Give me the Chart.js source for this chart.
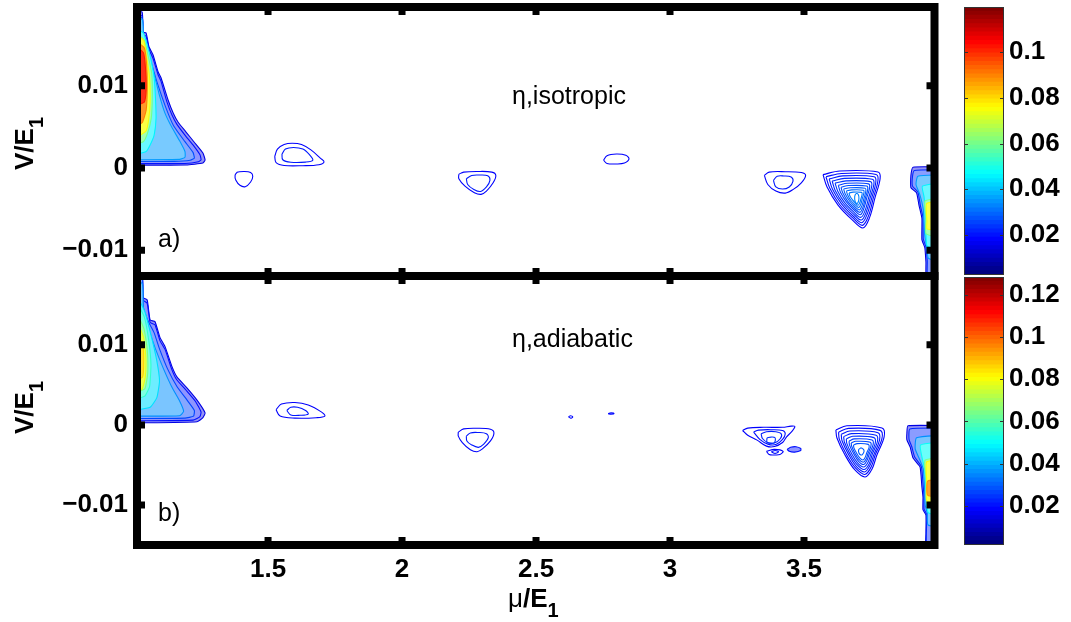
<!DOCTYPE html>
<html lang="en">
<head>
<meta charset="UTF-8">
<title>η contours: isotropic vs adiabatic</title>
<script src="https://cdn.jsdelivr.net/npm/chart.js"></script>
<style>
  body { margin: 0; background: #fff; }
  #wrap { position: relative; width: 1071px; height: 622px; overflow: hidden; }
  canvas { position: absolute; }
  .t { position: absolute; line-height: 1; white-space: nowrap; color: #000;
       font-family: "Liberation Sans", Arial, sans-serif; }
  .axt { font-weight: bold; font-size: 26px; }
  .axt .s { font-size: 20px; position: relative; top: 10px; }
  .axt .mu { font-weight: normal; }
  .yt { transform-origin: 0 0; transform: rotate(-90deg); }
  .note { font-size: 25px; }
</style>
</head>
<body>
<div id="wrap">
  <canvas id="topPlot" width="945" height="290" style="left:0;top:0"></canvas>
  <canvas id="botPlot" width="945" height="352" style="left:0;top:270px"></canvas>
  <canvas id="topBar" width="131" height="290" style="left:940px;top:0"></canvas>
  <canvas id="botBar" width="131" height="290" style="left:940px;top:270px"></canvas>

  <div class="t axt yt" style="left:11px;top:170px">V/E<span class="s">1</span></div>
  <div class="t axt yt" style="left:11px;top:434px">V/E<span class="s">1</span></div>
  <div class="t axt" style="left:508px;top:585px"><span class="mu">μ</span>/E<span class="s">1</span></div>

  <div class="t note" style="left:512px;top:83px">η,isotropic</div>
  <div class="t note" style="left:512px;top:326px">η,adiabatic</div>
  <div class="t note" style="left:158px;top:226px">a)</div>
  <div class="t note" style="left:158px;top:500px">b)</div>
</div>

<script>
// axes
const muRange = [1.011, 3.987];
const vRangeTop = [-0.01312, 0.01956];
const vRangeBot = [-0.0150, 0.0186];
const xTicks = [1.5, 2, 2.5, 3, 3.5];
const xTickText = ['1.5', '2', '2.5', '3', '3.5'];
const yTicks = [-0.01, 0, 0.01];
const yTickText = ['\u22120.01', '0', '0.01'];

// colour scales of the two panels
const cRangeTop = [0.0024, 0.1198];
const cRangeBot = [0.0013, 0.1286];
const cTicksTop = [0.02, 0.04, 0.06, 0.08, 0.1];
const cTicksBot = [0.02, 0.04, 0.06, 0.08, 0.1, 0.12];

// contour rings: [level, [[mu, V*1e3], ...]]

// a) isotropic
const isoLeft = [
  [0.014, [[1.00,18.96],[1.030,18.96],[1.034,16.5],[1.045,16.4],[1.056,14.7],[1.071,13.73],[1.090,11.66],[1.101,10.94],[1.127,8.26],[1.146,6.68],[1.164,5.59],[1.194,4.37],[1.224,3.16],[1.257,1.82],[1.265,0.97],[1.257,0.61],[1.194,0.36],[1.00,0.36]]],
  [0.019, [[1.00,18.7],[1.030,18.5],[1.034,16.2],[1.045,16.0],[1.056,14.4],[1.071,13.3],[1.090,11.3],[1.101,10.5],[1.123,8.0],[1.142,6.4],[1.160,5.3],[1.190,4.0],[1.220,2.8],[1.246,1.6],[1.250,1.0],[1.240,0.75],[1.19,0.55],[1.00,0.55]]],
  [0.026, [[1.00,18.6],[1.031,18.2],[1.034,15.8],[1.048,14.6],[1.066,12.6],[1.086,10.4],[1.118,7.4],[1.148,5.1],[1.19,3.2],[1.22,1.9],[1.225,1.2],[1.21,0.95],[1.15,0.8],[1.00,0.8]]],
  [0.035, [[1.00,18.5],[1.031,18.0],[1.036,15.8],[1.048,14.6],[1.06,13.0],[1.078,11.0],[1.095,8.8],[1.115,6.7],[1.14,5.0],[1.17,3.3],[1.19,2.0],[1.19,1.3],[1.17,1.05],[1.00,1.0]]],
  [0.045, [[1.00,17.0],[1.035,16.4],[1.049,15.0],[1.063,13.2],[1.075,11.0],[1.08,8.5],[1.082,6.0],[1.075,4.0],[1.06,2.8],[1.045,2.0],[1.00,1.6]]],
  [0.06, [[1.00,16.6],[1.037,15.6],[1.05,14.0],[1.066,11.5],[1.068,8.5],[1.064,6.0],[1.05,4.2],[1.035,3.2],[1.00,2.8]]],
  [0.075, [[1.00,16.5],[1.036,15.5],[1.047,13.5],[1.058,11.0],[1.06,8.0],[1.055,6.0],[1.045,4.5],[1.00,3.5]]],
  [0.09, [[1.00,15.6],[1.038,14.6],[1.047,12.5],[1.049,9.5],[1.045,7.0],[1.03,5.5],[1.00,5.0]]],
  [0.102, [[1.00,15.0],[1.035,14.0],[1.043,12.0],[1.045,9.5],[1.038,8.0],[1.00,7.5]]]
];
const isoRight = [
  [0.014, [[4.05,0.1],[3.907,0.1],[3.899,-0.9],[3.899,-2.4],[3.92,-3.0],[3.929,-4.5],[3.94,-6.1],[3.94,-8.7],[3.951,-9.7],[3.955,-11.4],[3.959,-14],[4.05,-14]]],
  [0.022, [[4.05,-0.2],[3.912,-0.3],[3.905,-1.0],[3.905,-2.2],[3.925,-2.9],[3.934,-4.5],[3.944,-6.0],[3.945,-8.6],[3.955,-9.6],[3.96,-11.3],[3.963,-14],[4.05,-14]]],
  [0.035, [[4.05,-0.8],[3.925,-1.0],[3.918,-2.0],[3.932,-3.2],[3.945,-5.0],[3.95,-8.0],[3.958,-9.6],[3.965,-11],[4.05,-11.5]]],
  [0.045, [[4.05,-1.6],[3.942,-2.2],[3.948,-3.5],[3.952,-5.5],[3.955,-8.0],[3.96,-9.5],[4.05,-10.5]]],
  [0.06, [[4.05,-3.5],[3.952,-4.0],[3.955,-6.0],[3.956,-8.0],[4.05,-8.8]]],
  [0.075, [[4.05,-3.9],[3.958,-4.3],[3.959,-6.5],[3.959,-7.4],[4.05,-7.7]]]
];
const isoRing141 = [
  [0.017, [[1.385,-0.5],[1.41,-0.42],[1.435,-0.55],[1.443,-1.0],[1.435,-1.7],[1.415,-2.27],[1.395,-2.1],[1.38,-1.5],[1.377,-0.9],[1.385,-0.5]]]
];
const isoPair160 = [
  [0.017, [[1.525,1.4],[1.535,2.3],[1.56,2.85],[1.59,3.0],[1.625,2.85],[1.66,2.2],[1.695,1.2],[1.709,0.75],[1.69,0.4],[1.63,0.28],[1.56,0.3],[1.53,0.65],[1.525,1.4]]],
  [0.02, [[1.552,1.7],[1.565,2.3],[1.595,2.5],[1.63,2.3],[1.655,1.6],[1.667,0.95],[1.64,0.72],[1.585,0.7],[1.555,1.0],[1.552,1.7]]]
];
const isoPair228 = [
  [0.017, [[2.212,-0.75],[2.23,-0.5],[2.28,-0.42],[2.335,-0.5],[2.35,-0.9],[2.34,-1.8],[2.315,-2.8],[2.295,-3.2],[2.27,-3.0],[2.235,-2.2],[2.212,-1.3],[2.212,-0.75]]],
  [0.02, [[2.24,-1.3],[2.26,-0.9],[2.29,-0.85],[2.32,-0.95],[2.328,-1.5],[2.315,-2.3],[2.293,-2.85],[2.268,-2.6],[2.245,-2.0],[2.24,-1.3]]]
];
const isoRing280 = [
  [0.017, [[2.752,0.95],[2.765,1.5],[2.8,1.7],[2.835,1.55],[2.847,1.1],[2.83,0.6],[2.8,0.49],[2.765,0.55],[2.752,0.95]]]
];
const isoPair343 = [
  [0.017, [[3.352,-0.9],[3.37,-0.5],[3.43,-0.45],[3.49,-0.55],[3.506,-0.9],[3.49,-1.8],[3.46,-2.6],[3.43,-3.05],[3.395,-2.8],[3.365,-2.0],[3.352,-0.9]]],
  [0.02, [[3.386,-1.5],[3.4,-1.0],[3.425,-0.97],[3.452,-1.1],[3.459,-1.6],[3.445,-2.3],[3.42,-2.55],[3.395,-2.3],[3.386,-1.5]]]
];
const isoNest372 = [
  [0.0170, [[3.571,-0.8],[3.634,-0.36],[3.776,-0.49],[3.784,-1.3],[3.765,-3.6],[3.745,-6.0],[3.72,-7.29],[3.68,-6.3],[3.627,-4.5],[3.586,-2.31],[3.571,-0.8]]],
  [0.0185, [[3.582,-1.06],[3.640,-0.66],[3.769,-0.78],[3.776,-1.52],[3.759,-3.61],[3.741,-5.79],[3.718,-6.97],[3.682,-6.07],[3.633,-4.43],[3.596,-2.44],[3.582,-1.06]]],
  [0.0200, [[3.594,-1.32],[3.645,-0.96],[3.762,-1.07],[3.768,-1.73],[3.753,-3.62],[3.736,-5.59],[3.716,-6.64],[3.683,-5.83],[3.640,-4.36],[3.606,-2.56],[3.594,-1.32]]],
  [0.0215, [[3.605,-1.58],[3.651,-1.26],[3.755,-1.36],[3.761,-1.95],[3.747,-3.63],[3.732,-5.38],[3.714,-6.32],[3.685,-5.6],[3.646,-4.28],[3.616,-2.69],[3.605,-1.58]]],
  [0.0230, [[3.616,-1.84],[3.657,-1.56],[3.748,-1.65],[3.753,-2.16],[3.741,-3.64],[3.728,-5.17],[3.712,-6.0],[3.686,-5.36],[3.652,-4.21],[3.626,-2.81],[3.616,-1.84]]],
  [0.0245, [[3.628,-2.1],[3.662,-1.86],[3.741,-1.93],[3.745,-2.38],[3.734,-3.65],[3.723,-4.97],[3.710,-5.68],[3.688,-5.13],[3.659,-4.14],[3.636,-2.94],[3.628,-2.1]]],
  [0.0260, [[3.638,-2.34],[3.667,-2.13],[3.734,-2.19],[3.738,-2.57],[3.729,-3.65],[3.720,-4.78],[3.708,-5.39],[3.689,-4.92],[3.664,-4.08],[3.645,-3.05],[3.638,-2.34]]],
  [0.0275, [[3.648,-2.57],[3.672,-2.4],[3.728,-2.45],[3.731,-2.76],[3.724,-3.66],[3.716,-4.6],[3.706,-5.1],[3.690,-4.71],[3.670,-4.01],[3.654,-3.16],[3.648,-2.57]]],
  [0.0290, [[3.658,-2.8],[3.678,-2.66],[3.722,-2.7],[3.724,-2.96],[3.718,-3.67],[3.712,-4.41],[3.704,-4.81],[3.692,-4.51],[3.675,-3.95],[3.663,-3.27],[3.658,-2.8]]],
  [0.0305, [[3.668,-3.03],[3.683,-2.93],[3.715,-2.96],[3.717,-3.15],[3.713,-3.68],[3.708,-4.23],[3.702,-4.53],[3.693,-4.3],[3.681,-3.88],[3.671,-3.38],[3.668,-3.03]]],
  [0.0320, [[3.697,-3.05],[3.703,-3.25],[3.705,-3.7],[3.702,-4.15],[3.697,-4.3],[3.692,-4.15],[3.689,-3.7],[3.691,-3.25],[3.697,-3.05]]]
];

// b) adiabatic
const adiLeft = [
  [0.014, [[1.00,19.0],[1.030,19.0],[1.034,15.9],[1.049,15.6],[1.060,13.1],[1.078,12.9],[1.097,10.9],[1.116,9.75],[1.142,7.25],[1.160,6.0],[1.198,4.6],[1.235,3.1],[1.265,1.5],[1.257,0.9],[1.235,0.4],[1.00,0.25]]],
  [0.019, [[1.00,18.8],[1.030,18.6],[1.034,15.6],[1.049,15.2],[1.060,12.8],[1.078,12.5],[1.097,10.5],[1.116,9.4],[1.140,7.0],[1.158,5.7],[1.195,4.3],[1.23,2.9],[1.25,1.6],[1.245,1.0],[1.22,0.6],[1.00,0.5]]],
  [0.026, [[1.00,18.6],[1.031,18.2],[1.034,14.8],[1.052,13.0],[1.075,11.5],[1.095,9.5],[1.125,7.0],[1.16,4.8],[1.2,3.0],[1.225,1.8],[1.222,1.1],[1.19,0.85],[1.00,0.8]]],
  [0.035, [[1.00,18.4],[1.031,17.6],[1.035,14.5],[1.055,12.0],[1.08,9.5],[1.11,7.0],[1.14,4.8],[1.17,3.0],[1.185,1.7],[1.17,1.15],[1.00,1.1]]],
  [0.045, [[1.00,16.8],[1.04,14.2],[1.065,11.0],[1.085,8.0],[1.095,5.5],[1.085,3.4],[1.06,2.2],[1.00,1.8]]],
  [0.055, [[1.00,16.0],[1.038,13.5],[1.055,10.5],[1.063,7.5],[1.058,4.8],[1.04,3.6],[1.00,3.2]]],
  [0.065, [[1.00,14.8],[1.037,12.0],[1.049,9.5],[1.051,6.5],[1.04,4.5],[1.00,4.0]]],
  [0.078, [[1.00,13.8],[1.035,11.0],[1.044,8.5],[1.042,6.0],[1.03,4.5],[1.00,4.2]]],
  [0.086, [[1.00,11.5],[1.032,10.2],[1.036,8.0],[1.032,6.0],[1.00,5.3]]]
];
const adiRight = [
  [0.014, [[4.05,-0.1],[3.888,-0.1],[3.884,-1.0],[3.884,-1.88],[3.896,-2.75],[3.907,-4.13],[3.933,-5.25],[3.94,-7.75],[3.944,-9.0],[3.944,-10.6],[3.955,-11.25],[3.955,-13.5],[3.957,-16],[4.05,-16]]],
  [0.022, [[4.05,-0.4],[3.895,-0.5],[3.892,-1.8],[3.902,-2.7],[3.913,-4.0],[3.938,-5.2],[3.945,-7.7],[3.948,-9.0],[3.948,-10.5],[3.958,-11.2],[3.96,-16],[4.05,-16]]],
  [0.035, [[4.05,-1.2],[3.92,-1.6],[3.915,-3.0],[3.93,-4.2],[3.945,-5.5],[3.95,-8.0],[3.952,-10.0],[3.96,-11.0],[3.963,-12.5],[4.05,-13]]],
  [0.05, [[4.05,-2.0],[3.935,-2.5],[3.94,-4.0],[3.95,-5.5],[3.955,-8.0],[3.958,-10.0],[3.965,-11.0],[4.05,-11.5]]],
  [0.065, [[4.05,-4.0],[3.952,-4.4],[3.955,-6.5],[3.957,-8.5],[3.959,-9.8],[4.05,-10.2]]],
  [0.08, [[4.05,-4.3],[3.958,-4.6],[3.958,-7.0],[3.959,-9.5],[4.05,-10.0]]],
  [0.095, [[4.05,-6.8],[3.962,-7.0],[3.962,-8.8],[4.05,-9.2]]]
];
const adiPair160 = [
  [0.017, [[1.53,1.9],[1.55,2.6],[1.6,2.8],[1.65,2.5],[1.7,1.6],[1.712,1.1],[1.68,0.9],[1.6,0.85],[1.545,1.1],[1.53,1.9]]],
  [0.02, [[1.57,1.8],[1.585,2.2],[1.61,2.2],[1.64,1.8],[1.65,1.35],[1.62,1.2],[1.585,1.25],[1.57,1.8]]]
];
const adiPair228 = [
  [0.017, [[2.21,-0.9],[2.23,-0.5],[2.28,-0.42],[2.33,-0.55],[2.343,-1.0],[2.33,-2.0],[2.3,-3.0],[2.28,-3.35],[2.255,-3.1],[2.225,-2.2],[2.21,-1.4],[2.21,-0.9]]],
  [0.02, [[2.24,-1.4],[2.255,-1.0],[2.285,-0.95],[2.315,-1.1],[2.322,-1.6],[2.305,-2.4],[2.285,-2.8],[2.26,-2.5],[2.242,-2.0],[2.24,-1.4]]]
];
const adiSpecks = [
  [0.018, [[2.621,1.0],[2.629,1.15],[2.637,1.0],[2.629,0.85],[2.621,1.0]]],
  [0.018, [[2.769,1.41],[2.78,1.5],[2.791,1.41],[2.78,1.33],[2.769,1.41]]]
];
const adiCluster343 = [
  [0.017, [[3.271,-0.7],[3.29,-0.4],[3.35,-0.3],[3.42,-0.3],[3.452,-0.15],[3.466,-0.2],[3.455,-0.8],[3.435,-1.5],[3.42,-2.2],[3.39,-2.7],[3.36,-2.65],[3.325,-1.9],[3.29,-1.3],[3.271,-0.7]]],
  [0.019, [[3.312,-0.9],[3.33,-0.65],[3.38,-0.6],[3.42,-0.7],[3.43,-1.1],[3.42,-1.8],[3.395,-2.45],[3.365,-2.4],[3.335,-1.8],[3.312,-0.9]]],
  [0.021, [[3.34,-1.1],[3.36,-0.85],[3.395,-0.85],[3.415,-1.1],[3.412,-1.7],[3.39,-2.25],[3.365,-2.2],[3.345,-1.7],[3.34,-1.1]]],
  [0.023, [[3.362,-1.6],[3.377,-1.52],[3.392,-1.6],[3.39,-2.2],[3.376,-2.3],[3.362,-2.2],[3.362,-1.6]]],
  [0.017, [[3.36,-3.3],[3.39,-3.05],[3.422,-3.3],[3.41,-3.7],[3.39,-3.75],[3.37,-3.7],[3.36,-3.3]]],
  [0.019, [[3.378,-3.35],[3.392,-3.2],[3.405,-3.35],[3.392,-3.55],[3.378,-3.35]]]
];
const adiBlot345 = [
  [0.019, [[3.437,-3.05],[3.45,-2.8],[3.47,-2.72],[3.488,-2.95],[3.488,-3.2],[3.465,-3.4],[3.445,-3.3],[3.437,-3.05]]]
];
const adiNest372 = [
  [0.0170, [[3.619,-0.63],[3.66,-0.1],[3.791,-0.38],[3.799,-1.5],[3.772,-3.75],[3.754,-5.5],[3.728,-6.5],[3.690,-5.63],[3.653,-3.75],[3.623,-1.63],[3.619,-0.63]]],
  [0.0185, [[3.629,-0.91],[3.666,-0.43],[3.784,-0.68],[3.791,-1.69],[3.766,-3.72],[3.750,-5.29],[3.727,-6.19],[3.693,-5.41],[3.659,-3.72],[3.632,-1.81],[3.629,-0.91]]],
  [0.0200, [[3.639,-1.18],[3.671,-0.76],[3.776,-0.98],[3.782,-1.88],[3.761,-3.68],[3.746,-5.08],[3.726,-5.88],[3.695,-5.18],[3.666,-3.68],[3.642,-1.98],[3.639,-1.18]]],
  [0.0215, [[3.648,-1.46],[3.677,-1.09],[3.769,-1.29],[3.774,-2.07],[3.755,-3.65],[3.743,-4.87],[3.724,-5.57],[3.698,-4.96],[3.672,-3.65],[3.651,-2.16],[3.648,-1.46]]],
  [0.0230, [[3.658,-1.74],[3.682,-1.42],[3.761,-1.59],[3.766,-2.26],[3.750,-3.61],[3.739,-4.66],[3.723,-5.26],[3.700,-4.74],[3.678,-3.61],[3.660,-2.34],[3.658,-1.74]]],
  [0.0245, [[3.668,-2.02],[3.688,-1.75],[3.754,-1.89],[3.758,-2.45],[3.744,-3.58],[3.735,-4.45],[3.722,-4.95],[3.703,-4.52],[3.685,-3.58],[3.670,-2.52],[3.668,-2.02]]],
  [0.0260, [[3.676,-2.26],[3.693,-2.05],[3.747,-2.16],[3.750,-2.62],[3.739,-3.54],[3.732,-4.26],[3.721,-4.67],[3.705,-4.31],[3.690,-3.54],[3.678,-2.67],[3.676,-2.26]]],
  [0.0275, [[3.685,-2.51],[3.698,-2.34],[3.740,-2.43],[3.743,-2.79],[3.734,-3.51],[3.728,-4.07],[3.720,-4.39],[3.708,-4.11],[3.696,-3.51],[3.686,-2.83],[3.685,-2.51]]],
  [0.0290, [[3.713,-2.85],[3.722,-3.05],[3.724,-3.35],[3.718,-3.7],[3.712,-3.75],[3.705,-3.5],[3.704,-3.1],[3.713,-2.85]]]
];

Chart.defaults.font.family = "'Liberation Sans', Arial, sans-serif";
const tickFont = { size: 26, weight: 'bold' };

// MATLAB-style jet colormap
function jet(t) {
  const c = v => Math.round(255 * Math.max(0, Math.min(1, v)));
  return [c(1.5 - Math.abs(4 * t - 3)), c(1.5 - Math.abs(4 * t - 2)), c(1.5 - Math.abs(4 * t - 1))];
}

function ringSets(rings, cRange, filled) {
  return rings.map(([lv, pts]) => {
    const t = (lv - cRange[0]) / (cRange[1] - cRange[0]);
    const [r, g, b] = jet(t);
    const a = Math.min(1, 0.35 + 0.65 * t);
    const mix = v => Math.round(255 * (1 - a) + v * a);
    return {
      data: pts.map(([x, v]) => ({ x: x, y: v / 1000 })),
      showLine: true,
      pointRadius: 0,
      borderWidth: 1.1,
      tension: filled ? 0.15 : 0.35,
      borderColor: `rgb(${r},${g},${b})`,
      backgroundColor: `rgb(${mix(r)},${mix(g)},${mix(b)})`,
      fill: filled ? 'shape' : false,
      order: -Math.round(lv * 1e5)
    };
  });
}

// thick box with inward ticks on all four sides
const framePlugin = {
  id: 'frame',
  afterDraw(chart) {
    const { ctx, chartArea: a, scales } = chart;
    ctx.save();
    ctx.strokeStyle = '#000';
    ctx.lineWidth = 8;
    ctx.strokeRect(a.left, a.top, a.right - a.left, a.bottom - a.top);
    ctx.lineWidth = 7;
    ctx.beginPath();
    xTicks.forEach(v => {
      const px = scales.x.getPixelForValue(v);
      ctx.moveTo(px, a.bottom); ctx.lineTo(px, a.bottom - 8);
      ctx.moveTo(px, a.top); ctx.lineTo(px, a.top + 8);
    });
    yTicks.forEach(v => {
      const py = scales.y.getPixelForValue(v);
      ctx.moveTo(a.left, py); ctx.lineTo(a.left + 8, py);
      ctx.moveTo(a.right, py); ctx.lineTo(a.right - 8, py);
    });
    ctx.stroke();
    ctx.restore();
  }
};

function makePanel(id, filled, lines, vRange, cRange, withX, pad) {
  const datasets = [];
  filled.forEach(b => datasets.push(...ringSets(b, cRange, true)));
  lines.forEach(b => datasets.push(...ringSets(b, cRange, false)));
  return new Chart(document.getElementById(id), {
    type: 'scatter',
    data: { datasets },
    options: {
      responsive: false,
      animation: false,
      events: [],
      layout: { padding: pad },
      plugins: { legend: { display: false }, tooltip: { enabled: false } },
      scales: {
        x: {
          type: 'linear', min: muRange[0], max: muRange[1], display: withX,
          afterBuildTicks: s => { s.ticks = xTicks.map(v => ({ value: v })); },
          afterFit: s => {
            s.height = withX ? 77 : 0;
            s.paddingLeft = 0; s.paddingRight = 0;
          },
          grid: { display: false, drawTicks: false },
          border: { display: false },
          ticks: { font: tickFont, color: '#000', padding: 9, maxRotation: 0,
                   callback: (v, i) => xTickText[i] }
        },
        y: {
          type: 'linear', min: vRange[0], max: vRange[1],
          afterBuildTicks: s => { s.ticks = yTicks.map(v => ({ value: v })); },
          afterFit: s => { s.width = 137; s.paddingTop = 0; s.paddingBottom = 0; },
          grid: { display: false, drawTicks: false },
          border: { display: false },
          ticks: { font: tickFont, color: '#000', padding: 9,
                   callback: (v, i) => yTickText[i] }
        }
      }
    },
    plugins: [framePlugin]
  });
}

// colorbar outline and small ticks
const barFrame = {
  id: 'barFrame',
  afterDraw(chart) {
    const { ctx, chartArea: a, scales } = chart;
    ctx.save();
    ctx.strokeStyle = '#333';
    ctx.lineWidth = 1;
    ctx.strokeRect(a.left + 0.5, a.top + 0.5, a.right - a.left - 1, a.bottom - a.top - 1);
    ctx.beginPath();
    scales.y.ticks.forEach(t => {
      const py = Math.round(scales.y.getPixelForValue(t.value)) + 0.5;
      ctx.moveTo(a.left, py); ctx.lineTo(a.left + 4, py);
      ctx.moveTo(a.right, py); ctx.lineTo(a.right - 4, py);
    });
    ctx.stroke();
    ctx.restore();
  }
};

function makeBar(id, cRange, cTicks) {
  const n = 64, step = (cRange[1] - cRange[0]) / n;
  const datasets = [];
  for (let i = 0; i < n; i++) {
    const [r, g, b] = jet(i / (n - 1));
    datasets.push({
      data: [[cRange[0] + i * step, cRange[0] + (i + 1.05) * step]],
      backgroundColor: `rgb(${r},${g},${b})`,
      borderWidth: 0, grouped: false, barPercentage: 1, categoryPercentage: 1
    });
  }
  return new Chart(document.getElementById(id), {
    type: 'bar',
    data: { labels: [''], datasets },
    options: {
      responsive: false,
      animation: false,
      events: [],
      layout: { padding: { left: 24, top: 7, bottom: 15, right: 0 } },
      plugins: { legend: { display: false }, tooltip: { enabled: false } },
      scales: {
        x: { display: false },
        y: {
          position: 'right', min: cRange[0], max: cRange[1],
          afterBuildTicks: s => { s.ticks = cTicks.map(v => ({ value: v })); },
          afterFit: s => { s.width = 67; s.paddingTop = 0; s.paddingBottom = 0; },
          grid: { display: false, drawTicks: false },
          border: { display: false },
          ticks: { font: tickFont, color: '#000', padding: 5,
                   callback: v => String(+v.toFixed(3)) }
        }
      }
    },
    plugins: [barFrame]
  });
}

makePanel('topPlot', [isoLeft, isoRight],
  [isoRing141, isoPair160, isoPair228, isoRing280, isoPair343, isoNest372],
  vRangeTop, cRangeTop, false, { left: 0, right: 10.5, top: 7, bottom: 14 });
makePanel('botPlot', [adiLeft, adiRight, adiBlot345],
  [adiPair160, adiPair228, adiSpecks, adiCluster343, adiNest372],
  vRangeBot, cRangeBot, true, { left: 0, right: 10.5, top: 6, bottom: 0 });
makeBar('topBar', cRangeTop, cTicksTop);
makeBar('botBar', cRangeBot, cTicksBot);
</script>
</body>
</html>
